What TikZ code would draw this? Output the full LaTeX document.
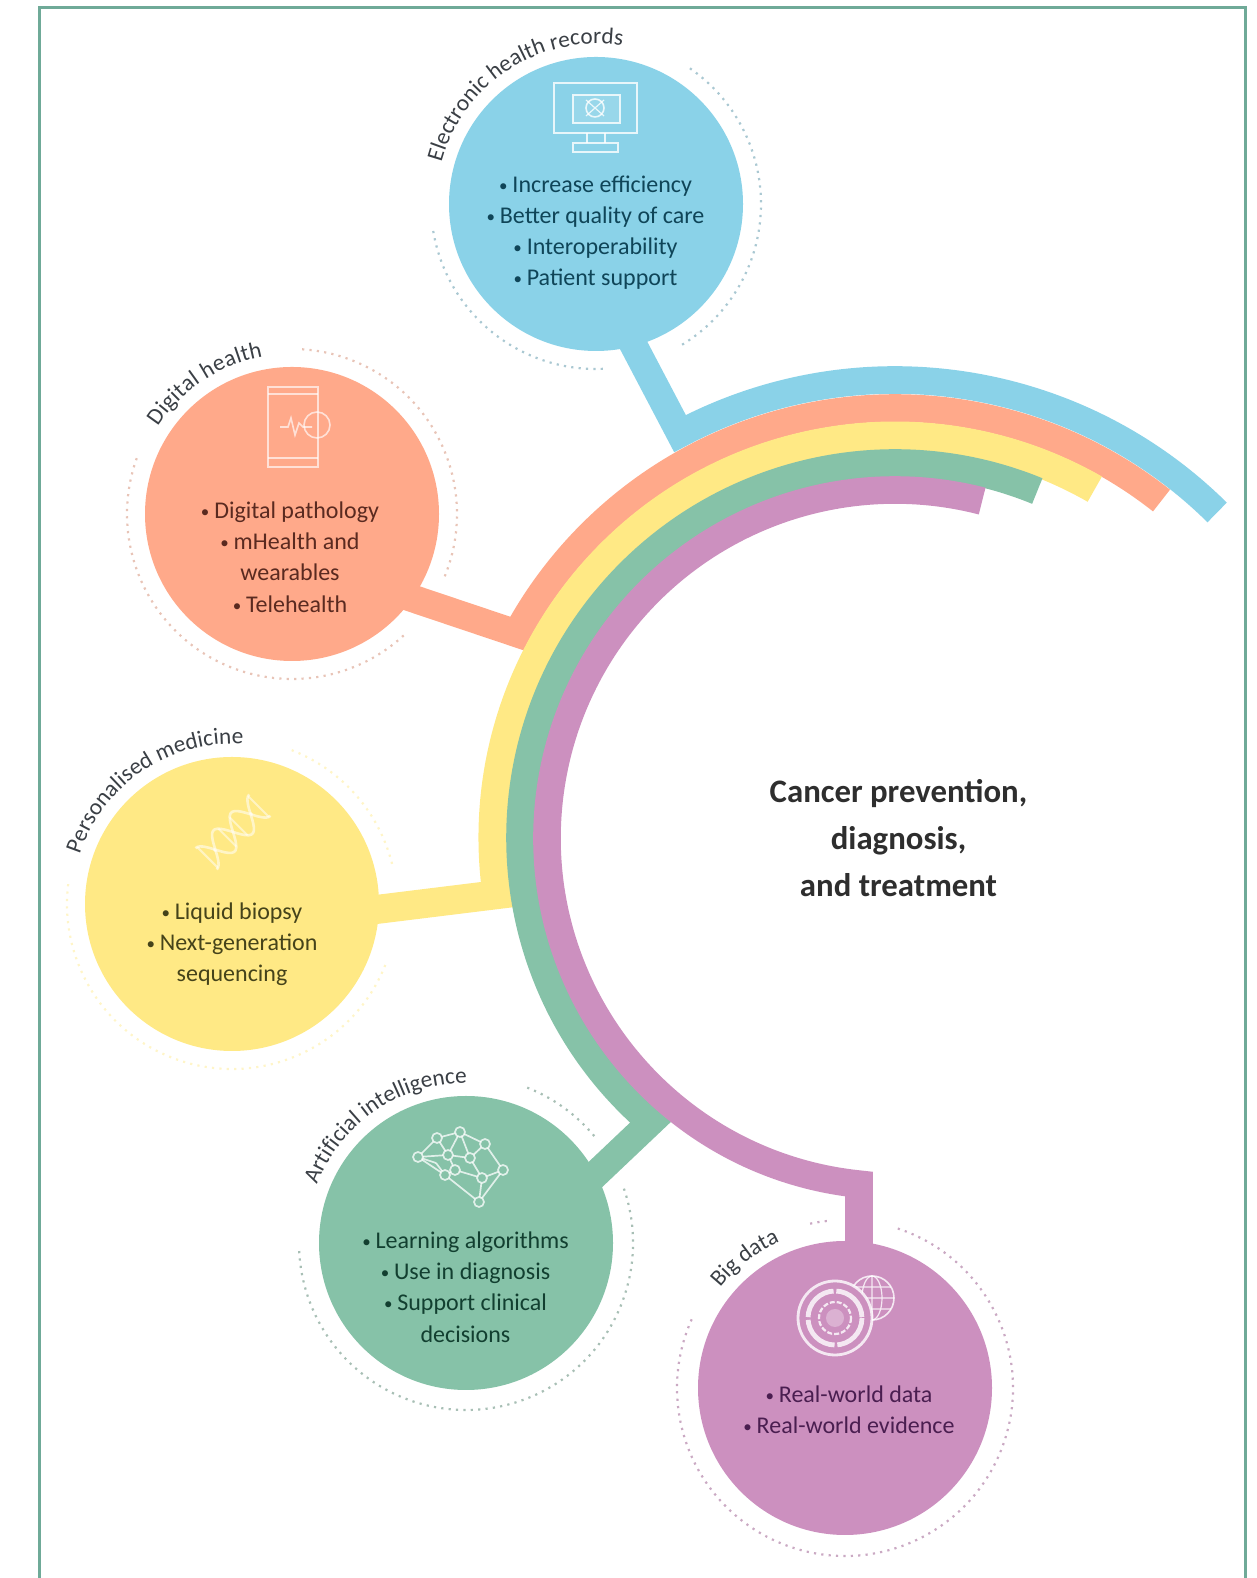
\documentclass[tikz,border=0pt]{standalone}
\usepackage{fontspec}
\setmainfont{Carlito}
\usetikzlibrary{decorations.text,calc}
\definecolor{cblue}{HTML}{8AD2E8}
\definecolor{corange}{HTML}{FFA98A}
\definecolor{cyellow}{HTML}{FFE985}
\definecolor{cgreen}{HTML}{86C2A8}
\definecolor{cpurple}{HTML}{CC90BF}
\definecolor{tblue}{HTML}{0F4558}
\definecolor{torange}{HTML}{5A2A20}
\definecolor{tyellow}{HTML}{45431A}
\definecolor{tgreen}{HTML}{123F30}
\definecolor{tpurple}{HTML}{4A1E50}
\definecolor{lblc}{HTML}{3A3F45}
\definecolor{frame}{HTML}{6FAA98}
\newcommand{\lblfont}{\fontsize{11.6pt}{14pt}\selectfont\color{lblc}}
\newcommand{\bul}{{\fontsize{8.5pt}{8.5pt}\selectfont\raisebox{.5pt}{•}}\hspace{2.4pt}}
\tikzset{
  bubble/.style={circle,minimum size=147pt,inner sep=0pt},
  bodytext/.style={align=center,font=\fontsize{12pt}{15.6pt}\selectfont,inner sep=0pt},
  band/.style={line width=13.8pt,line join=miter,miter limit=10},
  dotarc/.style={line width=1.1pt,dash pattern=on 1.1pt off 2.6pt},
  icon/.style={draw=white,line width=1.1pt,draw opacity=.8},
  pxscope/.style={shift={(0,1578)},yscale=-1},
}
\begin{document}
\begin{tikzpicture}[x=0.5pt,y=0.5pt]
\useasboundingbox (0,0) rectangle (1257,1578);
\draw[frame,line width=1.5pt] (39,0) -- (39,1570) -- (1245,1570) -- (1245,0);
\coordinate (hub) at (895,740);
% bubbles
\node[bubble,fill=cblue]   (ehr) at (596,1374) {};
\node[bubble,fill=corange] (dh)  at (292,1064) {};
\node[bubble,fill=cyellow] (pm)  at (232,674)  {};
\node[bubble,fill=cgreen]  (ai)  at (466,335)  {};
\node[bubble,fill=cpurple] (bd)  at (845,190)  {};
% junctions on the arcs
\coordinate (jblue)   at ($(hub)+(118.0:458)$);
\coordinate (jorange) at ($(hub)+(151.6:430)$);
\coordinate (jyellow) at ($(hub)+(188.1:402)$);
\coordinate (jgreen)  at ($(hub)+(229.3:375)$);
\coordinate (jpurple) at ($(hub)+(264.06:348)$);
% connectors and bands
\draw[band,cblue,shorten <=-4pt]   (ehr.-75.4) -- (jblue)   arc[start angle=118,end angle=45.3,radius=458];
\draw[band,corange,shorten <=-4pt] (dh.-35)    -- (jorange) arc[start angle=151.6,end angle=51.7,radius=430];
\draw[band,cyellow,line width=14.5pt,shorten <=-4pt] (pm.-2) -- (jyellow) arc[start angle=188.1,end angle=60.2,radius=402];
\draw[band,cgreen,shorten <=-4pt]  (ai.28.5)   -- (jgreen)  arc[start angle=229.3,end angle=67.7,radius=375];
\draw[band,cpurple,shorten <=-4pt] (jpurple |- bd.84.5) -- (jpurple) arc[start angle=264.06,end angle=75.5,radius=348];
% dotted arcs
\draw[dotarc,draw=cblue!60!gray!70] (ehr) ++(55.3:165) arc[start angle=55.3,end angle=-58.7,radius=165];
\draw[dotarc,draw=cblue!60!gray!70] (ehr) ++(-87.6:165) arc[start angle=-87.6,end angle=-172,radius=165];
\draw[dotarc,draw=corange!70!gray!60] (dh) ++(86.5:165) arc[start angle=86.5,end angle=-23.3,radius=165];
\draw[dotarc,draw=corange!70!gray!60] (dh) ++(-47.4:165) arc[start angle=-47.4,end angle=-201.5,radius=165];
\draw[dotarc,draw=cyellow!45] (pm) ++(68.8:165) arc[start angle=68.8,end angle=13,radius=165];
\draw[dotarc,draw=cyellow!45] (pm) ++(-21.7:165) arc[start angle=-21.7,end angle=-187,radius=165];
\draw[dotarc,draw=cgreen!55!gray!70] (ai) ++(68.5:167) arc[start angle=68.5,end angle=39.8,radius=167];
\draw[dotarc,draw=cgreen!55!gray!70] (ai) ++(19:167) arc[start angle=19,end angle=-177.3,radius=167];
\draw[dotarc,draw=cpurple!75!gray!75] (bd) ++(102:168) arc[start angle=102,end angle=96,radius=168];
\draw[dotarc,draw=cpurple!75!gray!75] (bd) ++(71.7:168) arc[start angle=71.7,end angle=-205.3,radius=168];
% curved titles
\path[decorate,decoration={text along path,text align=fit to path,text={|\lblfont|Electronic health records}}] (ehr) ++(165:160) arc[start angle=165,end angle=80.5,radius=160];
\path[decorate,decoration={text along path,text align=fit to path,text={|\lblfont|Digital health}}] (dh) ++(147:160) arc[start angle=147,end angle=100.5,radius=160];
\path[decorate,decoration={text along path,text align=fit to path,text={|\lblfont|Personalised medicine}}] (pm) ++(162:160) arc[start angle=162,end angle=86,radius=160];
\path[decorate,decoration={text along path,text align=fit to path,text={|\lblfont|Artificial intelligence}}] (ai) ++(158.6:160) arc[start angle=158.6,end angle=89.6,radius=160];
\path[decorate,decoration={text along path,text align=fit to path,text={|\lblfont|Big data}}] (bd) ++(141.3:160) arc[start angle=141.3,end angle=114.8,radius=160];
% body texts
\node[bodytext,text=tblue] (ehrtext) at (595.5,1345.5) {\bul Increase efficiency\\\bul Better quality of care\\\bul Interoperability\\\bul Patient support};
\node[bodytext,text=torange] (dhtext) at (290,1021) {\bul Digital pathology\\\bul mHealth and\\wearables\\\bul Telehealth};
\node[bodytext,text=tyellow] (pmtext) at (232,633.5) {\bul Liquid biopsy\\\bul Next-generation\\sequencing};
\node[bodytext,text=tgreen] (aitext) at (465.5,291) {\bul Learning algorithms\\\bul Use in diagnosis\\\bul Support clinical\\decisions};
\node[bodytext,text=tpurple] (bdtext) at (849,168) {\bul Real-world data\\\bul Real-world evidence};
\node[align=center,inner sep=0pt,text=black!82,font=\fontsize{16.4pt}{23.5pt}\selectfont\bfseries] (central) at (898.5,739.5) {Cancer prevention,\\diagnosis,\\and treatment};
% icons, in pixel coordinates
\begin{scope}[pxscope]
  % monitor
  \draw[icon,line width=1.2pt] (554,83) rectangle (637,133);
  \draw[icon,fill=white,fill opacity=.12] (573,95) rectangle (620,123);
  \draw[icon] (587,133) -- (587,143) (605,133) -- (605,143);
  \draw[icon] (573,143) rectangle (618,152);
  \draw[icon,line width=.8pt] (595,108) circle[radius=9];
  \draw[icon,line width=.6pt] (586,100) -- (604,116) (604,100) -- (586,116);
  % phone
  \draw[icon,line width=.8pt,draw opacity=.65] (268,387) rectangle (318,467);
  \draw[icon,line width=.8pt,draw opacity=.65] (268,394) -- (318,394) (268,458) -- (318,458);
  \draw[icon,line width=.8pt,draw opacity=.65] (317,425) circle[radius=13];
  \draw[icon,line width=.8pt,draw opacity=.65] (280,427) -- (288,427) -- (291,418) -- (295,435) -- (299,423) -- (303,427) -- (312,427);
  % network
  \foreach \a/\b/\c/\d in {418/1157/437/1138,437/1138/460/1132,460/1132/485/1144,485/1144/503/1170,503/1170/479/1202,479/1202/445/1175,445/1175/418/1157,437/1138/448/1155,460/1132/448/1155,460/1132/470/1158,448/1155/470/1158,470/1158/485/1144,470/1158/482/1178,482/1178/503/1170,482/1178/479/1202,448/1155/455/1170,455/1170/445/1175,455/1170/482/1178,418/1157/448/1155,418/1157/436/1163,436/1163/445/1175}
    \draw[icon,line width=.85pt,draw opacity=.75] (\a,\b) -- (\c,\d);
  \foreach \a/\b in {418/1157,437/1138,460/1132,485/1144,503/1170,479/1202,445/1175,448/1155,470/1158,455/1170,482/1178}
    \draw[icon,line width=.85pt,draw opacity=.75,fill=cgreen] (\a,\b) circle[radius=5];
  % globe and target
  \draw[icon,line width=.8pt] (872,1298) circle[radius=22];
  \draw[icon,line width=.6pt] (872,1298) ellipse[x radius=10,y radius=22] (850,1298) -- (894,1298) (853,1287) -- (891,1287) (853,1309) -- (891,1309) (872,1276) -- (872,1320);
  \draw[icon,line width=1.4pt,fill=cpurple] (835,1318) circle[radius=37];
  \draw[icon,line width=2.4pt,dash pattern=on 20pt off 1.4pt] (835,1318) circle[radius=27];
  \draw[icon,line width=1.1pt,dash pattern=on 2.5pt off 1pt] (835,1318) circle[radius=16];
  \draw[draw=none,fill=white,fill opacity=.3] (835,1318) circle[radius=9];
\end{scope}
% DNA
\begin{scope}[shift={(233,746)},rotate=45]
  \draw[icon,line width=1.3pt,draw opacity=.55] plot[smooth,domain=-38:38,samples=35] (\x,{15*sin(\x*7.2)});
  \draw[icon,line width=1.3pt,draw opacity=.55] plot[smooth,domain=-38:38,samples=35] (\x,{-15*sin(\x*7.2)});
  \foreach \t in {-36,-26,-8,0,8,26,36}
    \draw[icon,line width=1pt,draw opacity=.5] (\t,{15*sin(\t*7.2)}) -- (\t,{-15*sin(\t*7.2)});
\end{scope}
\end{tikzpicture}
\end{document}
